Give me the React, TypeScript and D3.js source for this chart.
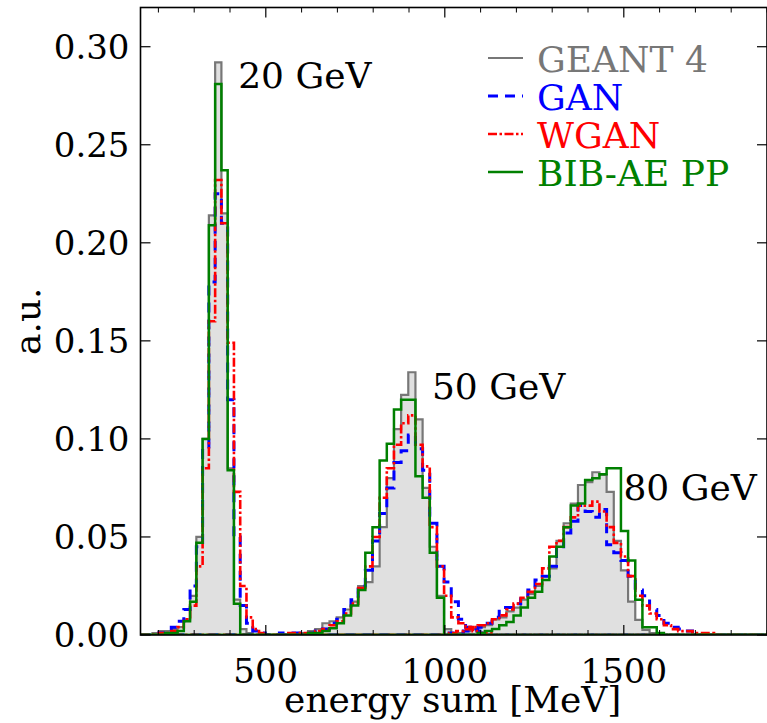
import React from "react";
import * as d3 from "d3";

// ---------- data ----------
const seriesNames = ["GEANT 4", "GAN", "WGAN", "BIB-AE PP"];
const xTicksMajor = [500, 1000, 1500];
const yTicks = [0, 0.05, 0.1, 0.15, 0.2, 0.25, 0.3];

// 20 GeV histograms (bin start / width in MeV)
const e20Start = 183.5;
const e20Width = 17.5;
const geant20 = [0.001, 0.002, 0.002, 0.003, 0.004, 0.008, 0.02, 0.05, 0.1, 0.214, 0.292, 0.215, 0.085, 0.018, 0.003, 0.001, 0, 0];
const gan20 = [0, 0.001, 0.002, 0.004, 0.007, 0.013, 0.025, 0.045, 0.095, 0.18, 0.225, 0.21, 0.12, 0.05, 0.015, 0.006, 0.002, 0.001];
const wgan20 = [0, 0.001, 0.001, 0.002, 0.004, 0.008, 0.015, 0.035, 0.085, 0.16, 0.232, 0.21, 0.149, 0.073, 0.025, 0.009, 0.003, 0.001];
const bib20 = [0, 0, 0.001, 0.001, 0.002, 0.007, 0.017, 0.047, 0.1, 0.209, 0.281, 0.237, 0.084, 0.016, 0, 0, 0, 0];

// 50 GeV histograms
const e50Start = 518;
const e50Width = 20;
const geant50 = [0, 0, 0, 0.001, 0.001, 0.002, 0.003, 0.006, 0.007, 0.009, 0.013, 0.017, 0.025, 0.027, 0.035, 0.055, 0.08, 0.105, 0.1225, 0.134, 0.11, 0.075, 0.045, 0.02, 0.003, 0.001, 0, 0, 0, 0, 0];
const gan50 = [0, 0.001, 0.001, 0.001, 0.001, 0.001, 0.002, 0.003, 0.006, 0.008, 0.013, 0.018, 0.025, 0.033, 0.048, 0.062, 0.075, 0.088, 0.094, 0.102, 0.095, 0.084, 0.057, 0.035, 0.027, 0.017, 0.008, 0.004, 0.002, 0.001, 0];
const wgan50 = [0, 0, 0.001, 0.001, 0.001, 0.001, 0.002, 0.003, 0.005, 0.007, 0.011, 0.016, 0.024, 0.035, 0.05, 0.07, 0.085, 0.097, 0.108, 0.112, 0.097, 0.086, 0.055, 0.035, 0.02, 0.009, 0.006, 0.004, 0.002, 0.001, 0.001];
const bib50 = [0, 0, 0, 0, 0, 0.001, 0.001, 0.002, 0.0034, 0.006, 0.01, 0.015, 0.023, 0.042, 0.055, 0.089, 0.0975, 0.115, 0.12, 0.12, 0.081, 0.07, 0.042, 0.019, 0, 0, 0, 0, 0, 0, 0];

// 80 GeV histograms
const e80Start = 1012;
const e80Width = 20;
const geant80 = [0, 0.001, 0.002, 0.003, 0.004, 0.005, 0.008, 0.009, 0.012, 0.014, 0.018, 0.021, 0.025, 0.03, 0.034, 0.048, 0.057, 0.067, 0.0765, 0.078, 0.083, 0.0816, 0.073, 0.048, 0.033, 0.017, 0.0077, 0.0026, 0.001, 0, 0, 0, 0, 0, 0, 0, 0];
const gan80 = [0.001, 0.001, 0.002, 0.003, 0.004, 0.006, 0.009, 0.014, 0.014, 0.016, 0.02, 0.023, 0.028, 0.03, 0.035, 0.045, 0.052, 0.058, 0.066, 0.063, 0.06, 0.064, 0.046, 0.042, 0.038, 0.03, 0.023, 0.02, 0.013, 0.01, 0.006, 0.004, 0.003, 0.002, 0.001, 0, 0];
const wgan80 = [0.001, 0.002, 0.003, 0.004, 0.005, 0.006, 0.008, 0.01, 0.013, 0.016, 0.019, 0.022, 0.026, 0.034, 0.045, 0.048, 0.055, 0.06, 0.066, 0.066, 0.068, 0.063, 0.055, 0.047, 0.04, 0.03, 0.02, 0.015, 0.011, 0.008, 0.005, 0.003, 0.002, 0.002, 0.001, 0.001, 0.001];
const bib80 = [0, 0, 0, 0, 0.001, 0.002, 0.003, 0.005, 0.0066, 0.01, 0.014, 0.019, 0.022, 0.028, 0.04, 0.045, 0.055, 0.066, 0.067, 0.079, 0.08, 0.082, 0.085, 0.085, 0.053, 0.038, 0.018, 0.004, 0.004, 0.001, 0, 0, 0, 0, 0, 0, 0];

const annotations = [
  { label: "20 GeV", x: 423, y: 0.279 },
  { label: "50 GeV", x: 964, y: 0.1206 },
  { label: "80 GeV", x: 1499, y: 0.0689 },
];

// ---------- layout ----------
const W = 767;
const H = 723;
const left = 140.5;
const right = 767;
const top = 7.5;
const bottom = 635;
const FONT = "'DejaVu Serif', serif";
const FS_TICK = 34;
const FS_TEXT = 36;

const colors = { geant: "#777777", fill: "#e0e0e0", gan: "#0000ff", wgan: "#ff0000", bib: "#008000" };

const x = d3.scaleLinear().domain([150, 1900]).range([left, right]);
const y = d3.scaleLinear().domain([0, 0.32]).range([bottom, top]);

type Hist = { start: number; width: number; values: number[] };

function stepPoints(h: Hist): [number, number][] {
  const pts: [number, number][] = [[x.domain()[0], 0], [h.start, 0]];
  h.values.forEach((v, i) => {
    pts.push([h.start + i * h.width, v]);
    pts.push([h.start + (i + 1) * h.width, v]);
  });
  pts.push([h.start + h.values.length * h.width, 0]);
  pts.push([x.domain()[1], 0]);
  return pts;
}

const line = d3
  .line<[number, number]>()
  .x((d) => x(d[0]))
  .y((d) => y(d[1]));
const area = d3
  .area<[number, number]>()
  .x((d) => x(d[0]))
  .y0(y(0))
  .y1((d) => y(d[1]));

const groups = [
  { key: "geant", sets: [geant20, geant50, geant80] },
  { key: "gan", sets: [gan20, gan50, gan80] },
  { key: "wgan", sets: [wgan20, wgan50, wgan80] },
  { key: "bib", sets: [bib20, bib50, bib80] },
];
const energies = [
  { start: e20Start, width: e20Width },
  { start: e50Start, width: e50Width },
  { start: e80Start, width: e80Width },
];

const styles: Record<string, { stroke: string; width: number; dash?: string }> = {
  geant: { stroke: colors.geant, width: 2.2 },
  gan: { stroke: colors.gan, width: 3, dash: "10,7" },
  wgan: { stroke: colors.wgan, width: 2.6, dash: "9,2.5,2.5,2.5" },
  bib: { stroke: colors.bib, width: 2.5 },
};

const minorTicks = d3.range(200, 1901, 100).filter((t) => !xTicksMajor.includes(t));

export default function App() {
  const legendX0 = 488;
  const legendX1 = 523;
  const legendTextX = 537;
  const legendBase = 72;
  const legendStep = 38;
  const legendColors = [colors.geant, colors.gan, colors.wgan, colors.bib];
  const legendKeys = ["geant", "gan", "wgan", "bib"];

  return (
    <svg
      width={W}
      height={H}
      style={{ position: "absolute", left: 0, top: 0, background: "#fff" }}
      fontFamily={FONT}
    >
      <defs>
        <clipPath id="plotclip">
          <rect x={left} y={top} width={right - left} height={bottom - top} />
        </clipPath>
      </defs>
      <rect x={0} y={0} width={W} height={H} fill="#fff" />
      <g clipPath="url(#plotclip)">
        {groups[0].sets.map((vals, i) => (
          <path
            key={"fill" + i}
            d={area(stepPoints({ ...energies[i], values: vals })) || ""}
            fill={colors.fill}
            stroke="none"
          />
        ))}
        {groups.map((g) =>
          g.sets.map((vals, i) => (
            <path
              key={g.key + i}
              d={line(stepPoints({ ...energies[i], values: vals })) || ""}
              fill="none"
              stroke={styles[g.key].stroke}
              strokeWidth={styles[g.key].width}
              strokeDasharray={styles[g.key].dash}
              strokeLinejoin="miter"
            />
          ))
        )}
      </g>

      {/* frame */}
      <rect x={left} y={top} width={right - left} height={bottom - top} fill="none" stroke="#000" strokeWidth={1.6} />

      {/* x ticks */}
      {xTicksMajor.map((t) => (
        <g key={"xm" + t}>
          <line x1={x(t)} x2={x(t)} y1={bottom} y2={bottom - 10} stroke="#000" strokeWidth={1.2} />
          <line x1={x(t)} x2={x(t)} y1={top} y2={top + 10} stroke="#000" strokeWidth={1.2} />
          <text x={x(t)} y={bottom + 48} textAnchor="middle" fontSize={FS_TICK} fill="#000">
            {t}
          </text>
        </g>
      ))}
      {minorTicks.map((t) => (
        <g key={"xn" + t}>
          <line x1={x(t)} x2={x(t)} y1={bottom} y2={bottom - 5} stroke="#000" strokeWidth={1} />
          <line x1={x(t)} x2={x(t)} y1={top} y2={top + 5} stroke="#000" strokeWidth={1} />
        </g>
      ))}

      {/* y ticks */}
      {yTicks.map((t) => (
        <g key={"y" + t}>
          <line x1={left} x2={left + 10} y1={y(t)} y2={y(t)} stroke="#000" strokeWidth={1.2} />
          <line x1={right} x2={right - 10} y1={y(t)} y2={y(t)} stroke="#000" strokeWidth={1.2} />
          <text x={left - 11} y={y(t) + 12} textAnchor="end" fontSize={FS_TICK} fill="#000">
            {d3.format(".2f")(t)}
          </text>
        </g>
      ))}

      {/* axis labels */}
      <text x={(left + right) / 2 - 1} y={712} textAnchor="middle" fontSize={FS_TEXT} fill="#000">
        energy sum [MeV]
      </text>
      <text
        transform={`translate(40, ${(top + bottom) / 2}) rotate(-90)`}
        textAnchor="middle"
        fontSize={FS_TEXT}
        fill="#000"
      >
        a.u.
      </text>

      {/* annotations */}
      {annotations.map((a) => (
        <text key={a.label} x={x(a.x)} y={y(a.y)} fontSize={FS_TEXT} fill="#000">
          {a.label}
        </text>
      ))}

      {/* legend */}
      {seriesNames.map((name, i) => {
        const s = styles[legendKeys[i]];
        const by = legendBase + i * legendStep;
        return (
          <g key={name}>
            <line
              x1={legendX0}
              x2={legendX1}
              y1={by - 14}
              y2={by - 14}
              stroke={s.stroke}
              strokeWidth={s.width}
              strokeDasharray={s.dash}
            />
            <text x={legendTextX} y={by} fontSize={FS_TEXT} fill={legendColors[i]}>
              {name}
            </text>
          </g>
        );
      })}
    </svg>
  );
}
